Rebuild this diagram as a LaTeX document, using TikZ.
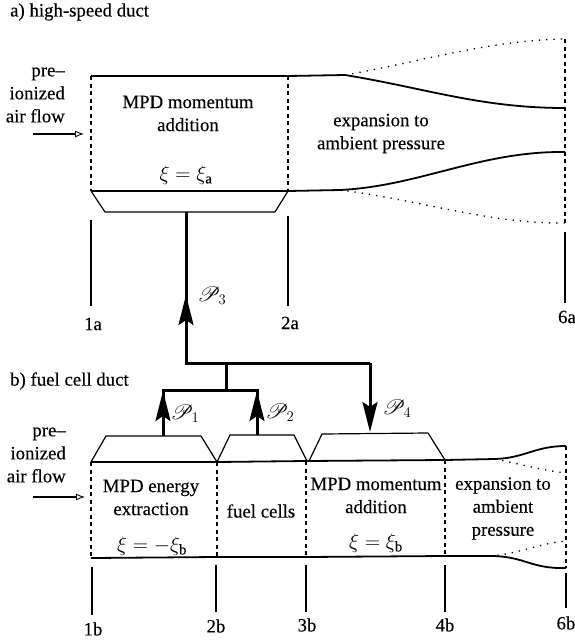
\documentclass[tikz,border=0pt]{standalone}
\usepackage{fix-cm}
\usepackage{fontspec}
\usepackage{mathrsfs}
\setmainfont{Liberation Serif}[FakeBold=0.25]
\usetikzlibrary{arrows.meta}
\tikzset{
  lbl/.style={font=\fontsize{18.8}{23}\selectfont, inner sep=0pt, align=center, text=black},
  mathlbl/.style={font=\fontsize{21}{23}\selectfont, inner sep=0pt, text=black},
  duct/.style={line width=1.8pt, line join=round},
  thinline/.style={line width=1.2pt, line join=round},
  cut/.style={line width=1.1pt, dash pattern=on 4pt off 3.5pt},
  dots/.style={line width=1.3pt, dash pattern=on 1.3pt off 6pt},
  station/.style={line width=1.3pt},
  power/.style={line width=3pt, line join=miter},
  powerhead/.style={line width=3pt, -{Stealth[length=30pt,width=15pt,inset=5pt]}, shorten >=-1pt},
  inflow/.style={line width=1.8pt, -{Latex[open,length=9pt,width=7pt,line width=0.9pt]}}
}
\begin{document}
\begin{tikzpicture}[x=1pt,y=-1pt]
\useasboundingbox (0,0) rectangle (575,641);
\fill[white] (0,0) rectangle (575,641);

% ---------- a) high-speed duct
\node[lbl,anchor=west] (titleA) at (10,12) {a) high-speed duct};
\node[lbl,align=right,anchor=east] (inA) at (65,95) {pre--\\ionized\\air flow};
\coordinate (ia1) at (33,134); \coordinate (ia2) at (84,134);
\draw[inflow] (ia1) -- (ia2);

\coordinate (a1t) at (91,76);  \coordinate (a1b) at (91,191);
\coordinate (a2t) at (288,76); \coordinate (a2b) at (288,191);
\coordinate (a6dt) at (565,39); \coordinate (a6db) at (565,223);
\coordinate (a6t) at (565,108); \coordinate (a6b) at (565,152);
\coordinate (aflatT) at (345,75); \coordinate (aflatB) at (340,190);
\coordinate (atL) at (105,212); \coordinate (atR) at (275,212);
\coordinate (apw) at (186,212);

\draw[duct] (a1t) -- (a2t) -- (aflatT) .. controls (425,88) and (480,108) .. (a6t);
\draw[duct] (a1b) -- (a2b) -- (aflatB) .. controls (420,186) and (480,151) .. (a6b);
\draw[dots] (aflatT) .. controls (420,62) and (490,40) .. (a6dt);
\draw[dots] (aflatB) .. controls (420,200) and (490,224) .. (a6db);
\draw[cut] (a1t) -- (a1b);
\draw[cut] (a2t) -- (a2b);
\draw[cut] (a6dt) -- (a6db);
\draw[thinline] (a1b) -- (atL) -- (atR) -- (a2b);

\node[lbl] (mpdA) at (188,113.5) {MPD momentum\\addition};
\node[mathlbl] (xiA) at (186,175) {$\xi=\xi_{\mathrm a}$};
\node[lbl] (expA) at (381,133.5) {expansion to\\ambient pressure};

\coordinate (s1a1) at (91,220);  \coordinate (s1a2) at (91,306);
\coordinate (s2a1) at (288,216); \coordinate (s2a2) at (288,306);
\coordinate (s6a1) at (565,232); \coordinate (s6a2) at (565,303);
\draw[station] (s1a1) -- (s1a2);
\draw[station] (s2a1) -- (s2a2);
\draw[station] (s6a1) -- (s6a2);
\node[lbl] (l1a) at (93,324) {1a};
\node[lbl] (l2a) at (290,323) {2a};
\node[lbl] (l6a) at (567,317) {6a};

% ---------- power lines
\coordinate (pj) at (186,363); \coordinate (pmid) at (226,363);
\coordinate (pr) at (370,363); \coordinate (p4) at (370,431);
\coordinate (p3tip) at (186,296);
\coordinate (bus) at (226,390); \coordinate (busL) at (163,390); \coordinate (busR) at (257,390);
\coordinate (p1b) at (163,436); \coordinate (p2b) at (257,435);
\draw[power] (apw) -- (pj) -- (pr);
\draw[powerhead] (pj) -- (p3tip);
\draw[powerhead] (pr) -- (p4);
\draw[power] (pmid) -- (bus);
\draw[power] (p1b) -- (busL) -- (busR) -- (p2b);
\draw[powerhead] (p1b) -- (163,392);
\draw[powerhead] (p2b) -- (257,392);
\node[mathlbl] (P3) at (212,296) {$\mathscr{P}_3$};
\node[mathlbl] (P1) at (185,414) {$\mathscr{P}_1$};
\node[mathlbl] (P2) at (280,413) {$\mathscr{P}_2$};
\node[mathlbl] (P4) at (397,409) {$\mathscr{P}_4$};

% ---------- b) fuel cell duct
\node[lbl,anchor=west] (titleB) at (10,381) {b) fuel cell duct};
\node[lbl,align=right,anchor=east] (inB) at (66,455) {pre--\\ionized\\air flow};
\coordinate (ib1) at (33,497); \coordinate (ib2) at (85,497);
\draw[inflow] (ib1) -- (ib2);

\coordinate (b1t) at (91,462);  \coordinate (b1b) at (91,558);
\coordinate (b2t) at (217,462); \coordinate (b2b) at (217,557);
\coordinate (b3t) at (306,461); \coordinate (b3b) at (306,557);
\coordinate (b4t) at (445,460); \coordinate (b4b) at (445,556);
\coordinate (b6t) at (566,446); \coordinate (b6b) at (566,568);
\coordinate (bflatT) at (495,459); \coordinate (bflatB) at (490,556);
\coordinate (b6dt) at (566,473); \coordinate (b6db) at (566,541);

\draw[duct] (b1t) -- (b2t) -- (b3t) -- (b4t) -- (bflatT) .. controls (525,458) and (535,446) .. (b6t);
\draw[duct] (b1b) -- (b2b) -- (b3b) -- (b4b) -- (bflatB) .. controls (525,556) and (530,569) .. (b6b);
\draw[dots] (bflatT) .. controls (520,464) and (545,471) .. (b6dt);
\draw[dots] (bflatB) .. controls (515,555) and (540,543) .. (b6db);
\draw[cut] (b1t) -- (b1b);
\draw[cut] (b2t) -- (b2b);
\draw[cut] (b3t) -- (b3b);
\draw[cut] (b4t) -- (b4b);
\draw[cut] (b6t) -- (b6b);

\draw[thinline] (b1t) -- (106,436) -- (201,436) -- (b2t);
\draw[thinline] (b2t) -- (230,435) -- (294,435) -- (307,461);
\draw[thinline] (309,461) -- (322,434) -- (428,433) -- (b4t);

\node[lbl] (mpdE) at (151,497.5) {MPD energy\\extraction};
\node[mathlbl] (xiE) at (152,546) {$\xi=-\xi_{\mathrm b}$};
\node[lbl] (fuel) at (261,511) {fuel cells};
\node[lbl] (mpdB) at (376,495.5) {MPD momentum\\addition};
\node[mathlbl] (xiB) at (376,543) {$\xi=\xi_{\mathrm b}$};
\node[lbl] (expB) at (503,508.5) {expansion to\\ambient\\pressure};

\coordinate (s1b1) at (92,567);  \coordinate (s1b2) at (92,615);
\coordinate (s2b1) at (216,565); \coordinate (s2b2) at (216,612);
\coordinate (s3b1) at (306,565); \coordinate (s3b2) at (306,612);
\coordinate (s4b1) at (445,565); \coordinate (s4b2) at (445,612);
\coordinate (s6b1) at (566,573); \coordinate (s6b2) at (566,608);
\draw[station] (s1b1) -- (s1b2);
\draw[station] (s2b1) -- (s2b2);
\draw[station] (s3b1) -- (s3b2);
\draw[station] (s4b1) -- (s4b2);
\draw[station] (s6b1) -- (s6b2);
\node[lbl] (l1b) at (93,629) {1b};
\node[lbl] (l2b) at (216,626) {2b};
\node[lbl] (l3b) at (307,625) {3b};
\node[lbl] (l4b) at (445,625) {4b};
\node[lbl] (l6b) at (566,623) {6b};
\end{tikzpicture}
\end{document}
